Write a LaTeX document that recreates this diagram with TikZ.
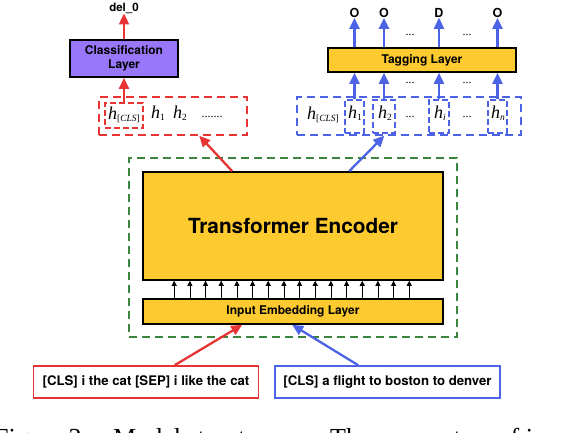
\documentclass[tikz,border=0pt]{standalone}
\usepackage{fontspec}
\setmainfont{Liberation Serif}
\setsansfont{TeX Gyre Heros}
\usetikzlibrary{arrows.meta,calc}
\definecolor{cred}{RGB}{232,52,52}
\definecolor{cblue}{RGB}{77,99,230}
\definecolor{cgreen}{RGB}{61,133,61}
\definecolor{cyel}{RGB}{253,202,48}
\definecolor{cpurp}{RGB}{153,119,250}
\newcommand{\hvar}[1]{{\fontsize{18}{18}\selectfont\itshape h}\raisebox{-0.45ex}{\fontsize{9.5}{9.5}\selectfont #1}}
\tikzset{
  blk/.style={draw=black, line width=1.6pt, inner sep=0pt, font=\sffamily\bfseries},
  dbox/.style={draw, dashed, dash pattern=on 8pt off 5pt, line width=1.5pt, inner sep=0pt},
  redarr/.style={draw=cred, line width=2.3pt, -{Triangle[length=11pt,width=10pt]}},
  bluarr/.style={draw=cblue, line width=2.3pt, -{Triangle[length=11pt,width=10pt]}},
  smallarr/.style={draw=black, line width=0.7pt, -{Triangle[length=5pt,width=5pt]}},
  hlab/.style={inner sep=0pt},
  dots/.style={inner sep=0pt, font=\fontsize{12}{12}\selectfont},
  tag/.style={inner sep=0pt, font=\sffamily\bfseries\fontsize{12.5}{12.5}\selectfont},
  capt/.style={anchor=base west, inner sep=0pt, font=\fontsize{26}{26}\selectfont},
}
\begin{document}
\begin{tikzpicture}[x=1pt,y=-1pt]
\useasboundingbox (0,0) rectangle (568,432);
% green frame
\node[dbox, draw=cgreen, minimum width=328pt, minimum height=179pt] (frame) at (293,247.5) {};
% transformer and embedding
\node[blk, fill=cyel, minimum width=300pt, minimum height=108pt, font=\sffamily\bfseries\fontsize{20.8}{20.8}\selectfont] (trans) at (293,226) {Transformer Encoder};
\node[blk, fill=cyel, minimum width=300pt, minimum height=25pt, font=\sffamily\bfseries\fontsize{12}{12}\selectfont] (emb) at (293,311.5) {Input Embedding Layer};
\foreach \i in {0,...,15}{
  \pgfmathsetmacro{\dx}{32+\i*15.67}
  \draw[smallarr] ($(emb.north west)+(\dx pt,0)$) -- ($(trans.south west)+(\dx pt,0)$);
}
% inputs
\node[draw=cred, line width=1.6pt, minimum width=225pt, minimum height=32pt, inner sep=0pt, font=\sffamily\bfseries\fontsize{13.2}{13.2}\selectfont] (rin) at (146,382) {[CLS] i the cat [SEP] i like the cat};
\node[draw=cblue, line width=1.6pt, minimum width=225pt, minimum height=32pt, inner sep=0pt, font=\sffamily\bfseries\fontsize{13.2}{13.2}\selectfont] (bin) at (387.5,382) {[CLS] a flight to boston to denver};
\draw[redarr] ($(rin.north west)+(142pt,0)$) -- ($(emb.south west)+(100pt,0)$);
\draw[bluarr] ($(bin.north west)+(84pt,0)$) -- ($(emb.south west)+(150pt,0)$);
% red side
\node[dbox, draw=cred, minimum width=148pt, minimum height=38pt] (rbox) at (173,116) {};
\node[dbox, draw=cred, dash pattern=on 6pt off 3pt, line width=1.3pt, minimum width=38pt, minimum height=25pt] (rcls) at (124,115.5) {};
\node[hlab] (rh0) at (124,115) {\hvar{[\textit{CLS}]}};
\node[hlab] (rh1) at (158,113) {\hvar{1}};
\node[hlab] (rh2) at (180,113) {\hvar{2}};
\node[dots] (rdots) at (212,117) {.......};
\draw[redarr] ($(trans.north west)+(90pt,0)$) -- ($(rbox.south west)+(101pt,0)$);
\node[blk, fill=cpurp, minimum width=108pt, minimum height=37pt, align=center, font=\sffamily\bfseries\fontsize{12}{14}\selectfont] (cls) at (124,58.5) {Classification\\Layer};
\draw[redarr] (rcls.north) -- (cls.south);
\node[tag, font=\sffamily\bfseries\fontsize{11.5}{11.5}\selectfont] (del) at (124,8) {del\_0};
\draw[redarr] (cls.north) -- (del.south);
% blue side
\node[dbox, draw=cblue, minimum width=224pt, minimum height=38pt] (bbox) at (409,116) {};
\node[dbox, draw=cblue, dash pattern=on 6pt off 3pt, line width=1.3pt, minimum width=19pt, minimum height=33pt] (b1) at (354.5,116.5) {};
\node[dbox, draw=cblue, dash pattern=on 6pt off 3pt, line width=1.3pt, minimum width=22pt, minimum height=33pt] (b2) at (384,116.5) {};
\node[dbox, draw=cblue, dash pattern=on 6pt off 3pt, line width=1.3pt, minimum width=20pt, minimum height=33pt] (bi) at (439,116.5) {};
\node[dbox, draw=cblue, dash pattern=on 6pt off 3pt, line width=1.3pt, minimum width=19pt, minimum height=33pt] (bn) at (497.5,116.5) {};
\node[hlab] (bh0) at (323,115) {\hvar{[\textit{CLS}]}};
\node[hlab] (bh1) at (355,113) {\hvar{1}};
\node[hlab] (bh2) at (385,113) {\hvar{2}};
\node[dots] (bd1) at (410,117) {...};
\node[hlab] (bhi) at (440,113) {\hvar{\textit{i}}};
\node[dots] (bd2) at (467,117) {...};
\node[hlab] (bhn) at (498,113) {\hvar{\textit{n}}};
\draw[bluarr] ($(trans.north west)+(207pt,0)$) -- ($(bbox.south west)+(88pt,0)$);
\node[blk, fill=cyel, minimum width=188pt, minimum height=24pt, font=\sffamily\bfseries\fontsize{12}{12}\selectfont] (tagl) at (422,60) {Tagging Layer};
\node[tag] (o1) at (354.5,13) {O};
\node[tag] (o2) at (384,13) {O};
\node[tag] (o3) at (439,13) {D};
\node[tag] (o4) at (497.5,13) {O};
\foreach \b/\o in {b1/o1,b2/o2,bi/o3,bn/o4}{
  \draw[bluarr] (\b.north) -- (\b.north |- tagl.south);
  \draw[bluarr] (tagl.north -| \o) -- (\o.south);
}
\node[dots] (td1) at (410,35) {...};
\node[dots] (td2) at (467,35) {...};
\node[dots] (ld1) at (410,83) {...};
\node[dots] (ld2) at (467,83) {...};
% clipped caption (cut off at the lower edge, as in the reference)
\begin{scope}
\clip (0,0) rectangle (568,432);
\node[capt] (cap1) at (-6,446) {Figure 3:};
\node[capt] (cap2) at (113,446) {Model structure.};
\node[capt] (cap3) at (330,446) {The parameters of i};
\end{scope}
\end{tikzpicture}
\end{document}
